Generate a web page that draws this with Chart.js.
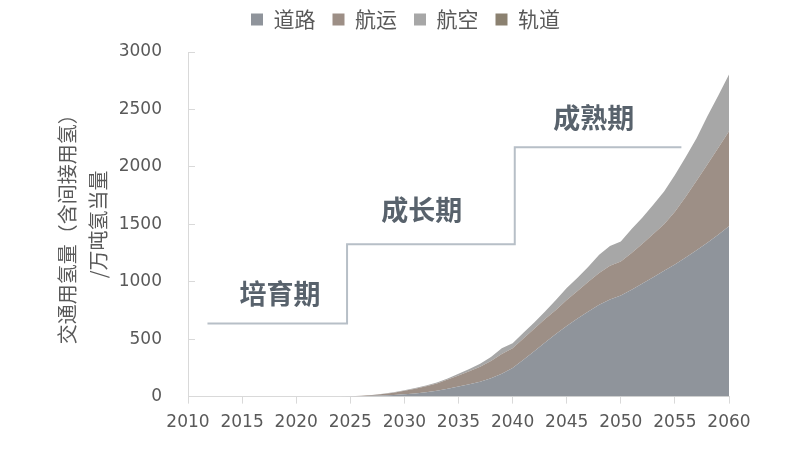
<!DOCTYPE html>
<html>
<head>
<meta charset="utf-8">
<script src="https://cdn.jsdelivr.net/npm/chart.js@4"></script>
<style>
  body { margin: 0; background: #fff; }
  .chartBox { width: 787px; height: 463px; }
</style>
</head>
<body>
<div class="chartBox"><canvas id="chart"></canvas></div>
<script>
// years on the x axis
let years = [];
for (let y = 2010; y <= 2060; y++) years.push(y);

// 万吨氢当量, 2010..2060
let road = [
  0, 0, 0, 0, 0, 0, 0, 0, 0, 0, 0, 0, 0, 0, 0,
  2, 4, 7, 10, 14, 20, 28, 38, 52, 68, 87, 108, 130, 160, 200, 250,
  320, 395, 470, 545, 615, 680, 740, 800, 845, 880,
  930, 985, 1040, 1095, 1150, 1210, 1275, 1340, 1410, 1483,
];
let shipping = [
  0, 0, 0, 0, 0, 0, 0, 0, 0, 0, 0, 0, 0, 0, 0,
  1, 3, 6, 12, 20, 30, 40, 52, 63, 80, 96, 112, 130, 150, 170, 170,
  185, 195, 205, 210, 225, 240, 260, 275, 295, 297,
  320, 345, 375, 405, 460, 530, 605, 680, 755, 828,
];
let aviation = [
  0, 0, 0, 0, 0, 0, 0, 0, 0, 0, 0, 0, 0, 0, 0,
  0, 1, 1, 2, 3, 5, 6, 7, 8, 9, 15, 20, 25, 35, 50, 45,
  50, 55, 65, 85, 105, 115, 130, 160, 170, 173,
  210, 230, 255, 285, 320, 345, 370, 420, 455, 494,
];
let rail = [
  0, 0, 0, 0, 0, 0, 0, 0, 0, 0, 0, 0, 0, 0, 0,
  0, 0, 0, 0, 0, 0, 0, 0, 0, 0, 0, 0, 0, 0, 0, 0,
  0, 0, 0, 0, 0, 0, 0, 0, 0, 0,
  0, 0, 0, 0, 0, 0, 0, 0, 0, 0,
];

let seriesNames = ["道路", "航运", "航空", "轨道"];
let seriesColors = ["#8f949b", "#9d8f86", "#a7a7a7", "#8b8170"];

// phase staircase (year, value) and labels
let stepYears = [2011.8, 2024.7, 2040.2, 2055.6];
let stepValues = [637, 1326, 2171, 2171];
let phaseNames = ["培育期", "成长期", "成熟期"];
let phaseYears = [2018.5, 2031.6, 2047.5];
let phaseValues = [898, 1631, 2424];

let yTicks = [0, 500, 1000, 1500, 2000, 2500, 3000];

const cjk = "'Noto Sans CJK SC', 'Noto Sans', sans-serif";
const num = "'DejaVu Sans', sans-serif";

function toPoints(values) {
  return years.map((yr, i) => ({ x: yr, y: values[i] }));
}

let allSeries = [road, shipping, aviation, rail];
let datasets = allSeries.map((values, i) => ({
  label: seriesNames[i],
  data: toPoints(values),
  backgroundColor: seriesColors[i],
  borderColor: seriesColors[i],
  borderWidth: 0,
  pointRadius: 0,
  fill: i === 0 ? "origin" : "-1",
  stack: "h2",
}));

datasets.push({
  label: "phase",
  data: stepYears.map((yr, i) => ({ x: yr, y: stepValues[i] })),
  borderColor: "#b7bfc7",
  borderWidth: 2,
  pointRadius: 0,
  stepped: true,
  fill: false,
  stack: "phase",
});

// phase names, placed with the chart scales
const phaseLabels = {
  id: "phaseLabels",
  afterDatasetsDraw(chart) {
    let c = chart.ctx;
    let xs = chart.scales.x;
    let ys = chart.scales.y;
    c.save();
    c.font = "bold 27px " + cjk;
    c.fillStyle = "#58626c";
    c.textAlign = "center";
    c.textBaseline = "middle";
    phaseNames.forEach((name, i) => {
      c.fillText(name, xs.getPixelForValue(phaseYears[i]), ys.getPixelForValue(phaseValues[i]));
    });
    c.restore();
  },
};

// legend: fixed height, nudged right like the original
const legendTweak = {
  id: "legendTweak",
  beforeInit(chart) {
    const fit = chart.legend.fit;
    chart.legend.fit = function () {
      fit.bind(chart.legend)();
      this.height = 60;
    };
  },
  afterLayout(chart) {
    chart.legend.left += 21;
    chart.legend.right += 21;
  },
};

Chart.defaults.color = "#595959";

const ctx = document.getElementById("chart");
let myChart = new Chart(ctx, {
  type: "line",
  data: { datasets: datasets },
  options: {
    responsive: true,
    maintainAspectRatio: false,
    animation: false,
    layout: { padding: { top: -8, left: 40, right: 58, bottom: 21 } },
    scales: {
      x: {
        type: "linear",
        min: 2010,
        max: 2060,
        grid: { drawOnChartArea: false, color: "#d9d9d9", tickLength: 7 },
        border: { color: "#d9d9d9" },
        ticks: {
          stepSize: 5,
          padding: 9,
          color: "#595959",
          font: { family: num, size: 17 },
          callback: (v) => String(v),
        },
      },
      y: {
        stacked: true,
        min: 0,
        max: 3000,
        afterBuildTicks: (axis) => {
          axis.ticks = yTicks.map((v) => ({ value: v }));
        },
        afterFit: (axis) => {
          axis.width = 148;
        },
        grid: { drawOnChartArea: false, color: "#d9d9d9", tickLength: -7 },
        border: { color: "#d9d9d9" },
        ticks: {
          padding: 33,
          color: "#595959",
          font: { family: num, size: 17 },
          callback: (v) => String(v),
        },
        title: {
          display: true,
          text: ["交通用氢量（含间接用氢）", "/万吨氢当量"],
          color: "#595959",
          font: { family: cjk, size: 20, lineHeight: 1.55 },
          padding: { top: 11.5, bottom: 4 },
        },
      },
    },
    plugins: {
      legend: {
        position: "top",
        labels: {
          boxWidth: 12,
          boxHeight: 12,
          padding: 17,
          color: "#595959",
          font: { family: cjk, size: 21 },
          filter: (item) => item.text !== "phase",
        },
      },
      tooltip: { enabled: false },
    },
  },
  plugins: [phaseLabels, legendTweak],
});
</script>
</body>
</html>
